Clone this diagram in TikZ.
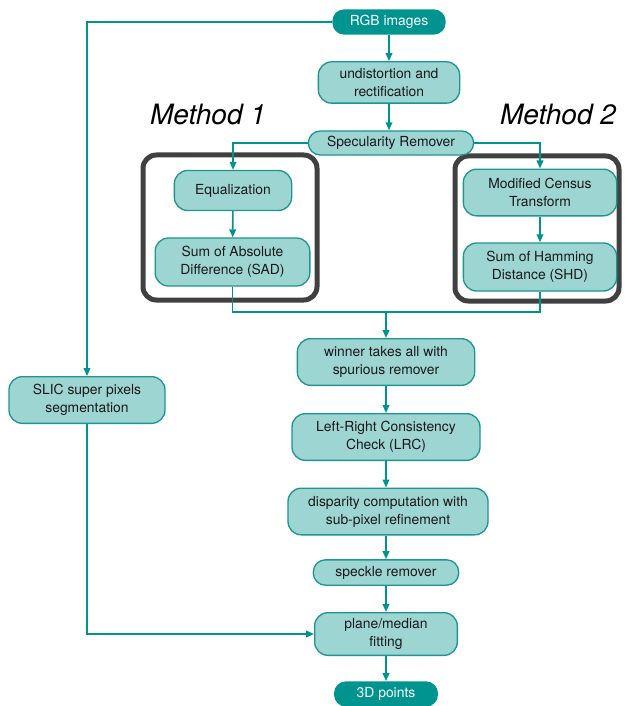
\documentclass[tikz,border=0pt]{standalone}
\usepackage{fontspec}
\setmainfont{TeX Gyre Heros}
\usetikzlibrary{arrows.meta}
\definecolor{tealdark}{HTML}{009490}
\definecolor{teallight}{HTML}{9DD5D3}
\definecolor{tealline}{HTML}{1D9692}
\definecolor{boxgray}{HTML}{404040}
\tikzset{
    proc/.style={draw=tealline, line width=1pt, fill=teallight, rounded corners=10pt,
        align=center, inner sep=0pt, font=\fontsize{10.4}{13.5}\selectfont, text=black!90},
    term/.style={fill=tealdark, rounded corners=9pt, inner sep=0pt,
        font=\fontsize{10.4}{12}\selectfont, text=white},
    flow/.style={draw=tealdark, line width=1.2pt, -{Triangle[length=6pt,width=5pt]}},
    link/.style={draw=tealdark, line width=1.2pt},
    methodbox/.style={draw=boxgray, line width=3.75pt, rounded corners=10pt},
    methodlabel/.style={font=\fontsize{21}{24}\selectfont\itshape}
}
\begin{document}
\begin{tikzpicture}[x=0.75pt,y=-0.75pt]
        \useasboundingbox (0,0) rectangle (624,706);
        %% Method boxes
        \draw[methodbox] (143,155) rectangle (317,300);
        \draw[methodbox] (455,156) rectangle (619,301);
        \node[methodlabel] (m1) at (208,115) {Method 1};
        \node[methodlabel] (m2) at (558,115) {Method 2};
        %% Main column
        \node[term, minimum width=85pt, minimum height=19pt] (rgb)    at (389,22)  {RGB images};
        \node[proc, minimum width=106pt, minimum height=31pt] (undist) at (389,82.5) {undistortion and\\rectification};
        \node[proc, minimum width=124pt, minimum height=18pt, rounded corners=9pt] (spec) at (391,143) {Specularity Remover};
        \node[proc, minimum width=88pt, minimum height=30pt]  (equal)  at (233,190.5) {Equalization};
        \node[proc, minimum width=116pt, minimum height=36pt] (sad)    at (232.5,262) {Sum of Absolute\\Difference (SAD)};
        \node[proc, minimum width=115pt, minimum height=35pt] (census) at (540,192.5) {Modified Census\\Transform};
        \node[proc, minimum width=115pt, minimum height=36pt] (shd)    at (540,267) {Sum of Hamming\\Distance (SHD)};
        \coordinate (join) at (386,312);
        \node[proc, minimum width=133pt, minimum height=35pt] (winner) at (386,362) {winner takes all with\\spurious remover};
        \node[proc, minimum width=141pt, minimum height=35pt] (lrc)    at (386,437) {Left-Right Consistency\\Check (LRC)};
        \node[proc, minimum width=150pt, minimum height=35pt] (disp)   at (388,511.5) {disparity computation with\\sub-pixel refinement};
        \node[proc, minimum width=109pt, minimum height=19pt, rounded corners=9pt] (speck) at (386,572.5) {speckle remover};
        \node[proc, minimum width=107pt, minimum height=32pt] (plane)  at (386,634) {plane/median\\fitting};
        \node[term, minimum width=78pt, minimum height=19pt]  (pts)    at (386,694) {3D points};
        %% Side branch
        \node[proc, minimum width=117pt, minimum height=35pt] (slic)   at (87,400) {SLIC super pixels\\segmentation};
        %% Connectors
        \draw[flow] (rgb) -- (undist);
        \draw[flow] (undist.south) -- (undist.south |- spec.north);
        \draw[flow] (spec.west) -| (equal.north);
        \draw[flow] (spec.east) -| (census.north);
        \draw[flow] (equal) -- (sad);
        \draw[flow] (census) -- (shd);
        \draw[link] (sad.south) |- (join) -| (shd.south);
        \draw[flow] (join) -- (winner);
        \draw[flow] (winner) -- (lrc);
        \draw[flow] (lrc) -- (lrc |- disp.north);
        \draw[flow] (speck |- disp.south) -- (speck);
        \draw[flow] (speck) -- (plane);
        \draw[flow] (plane) -- (pts);
        \draw[flow] (rgb.west) -| (slic.north);
        \draw[flow] (slic.south) |- (plane.west);
    \end{tikzpicture}
\end{document}
